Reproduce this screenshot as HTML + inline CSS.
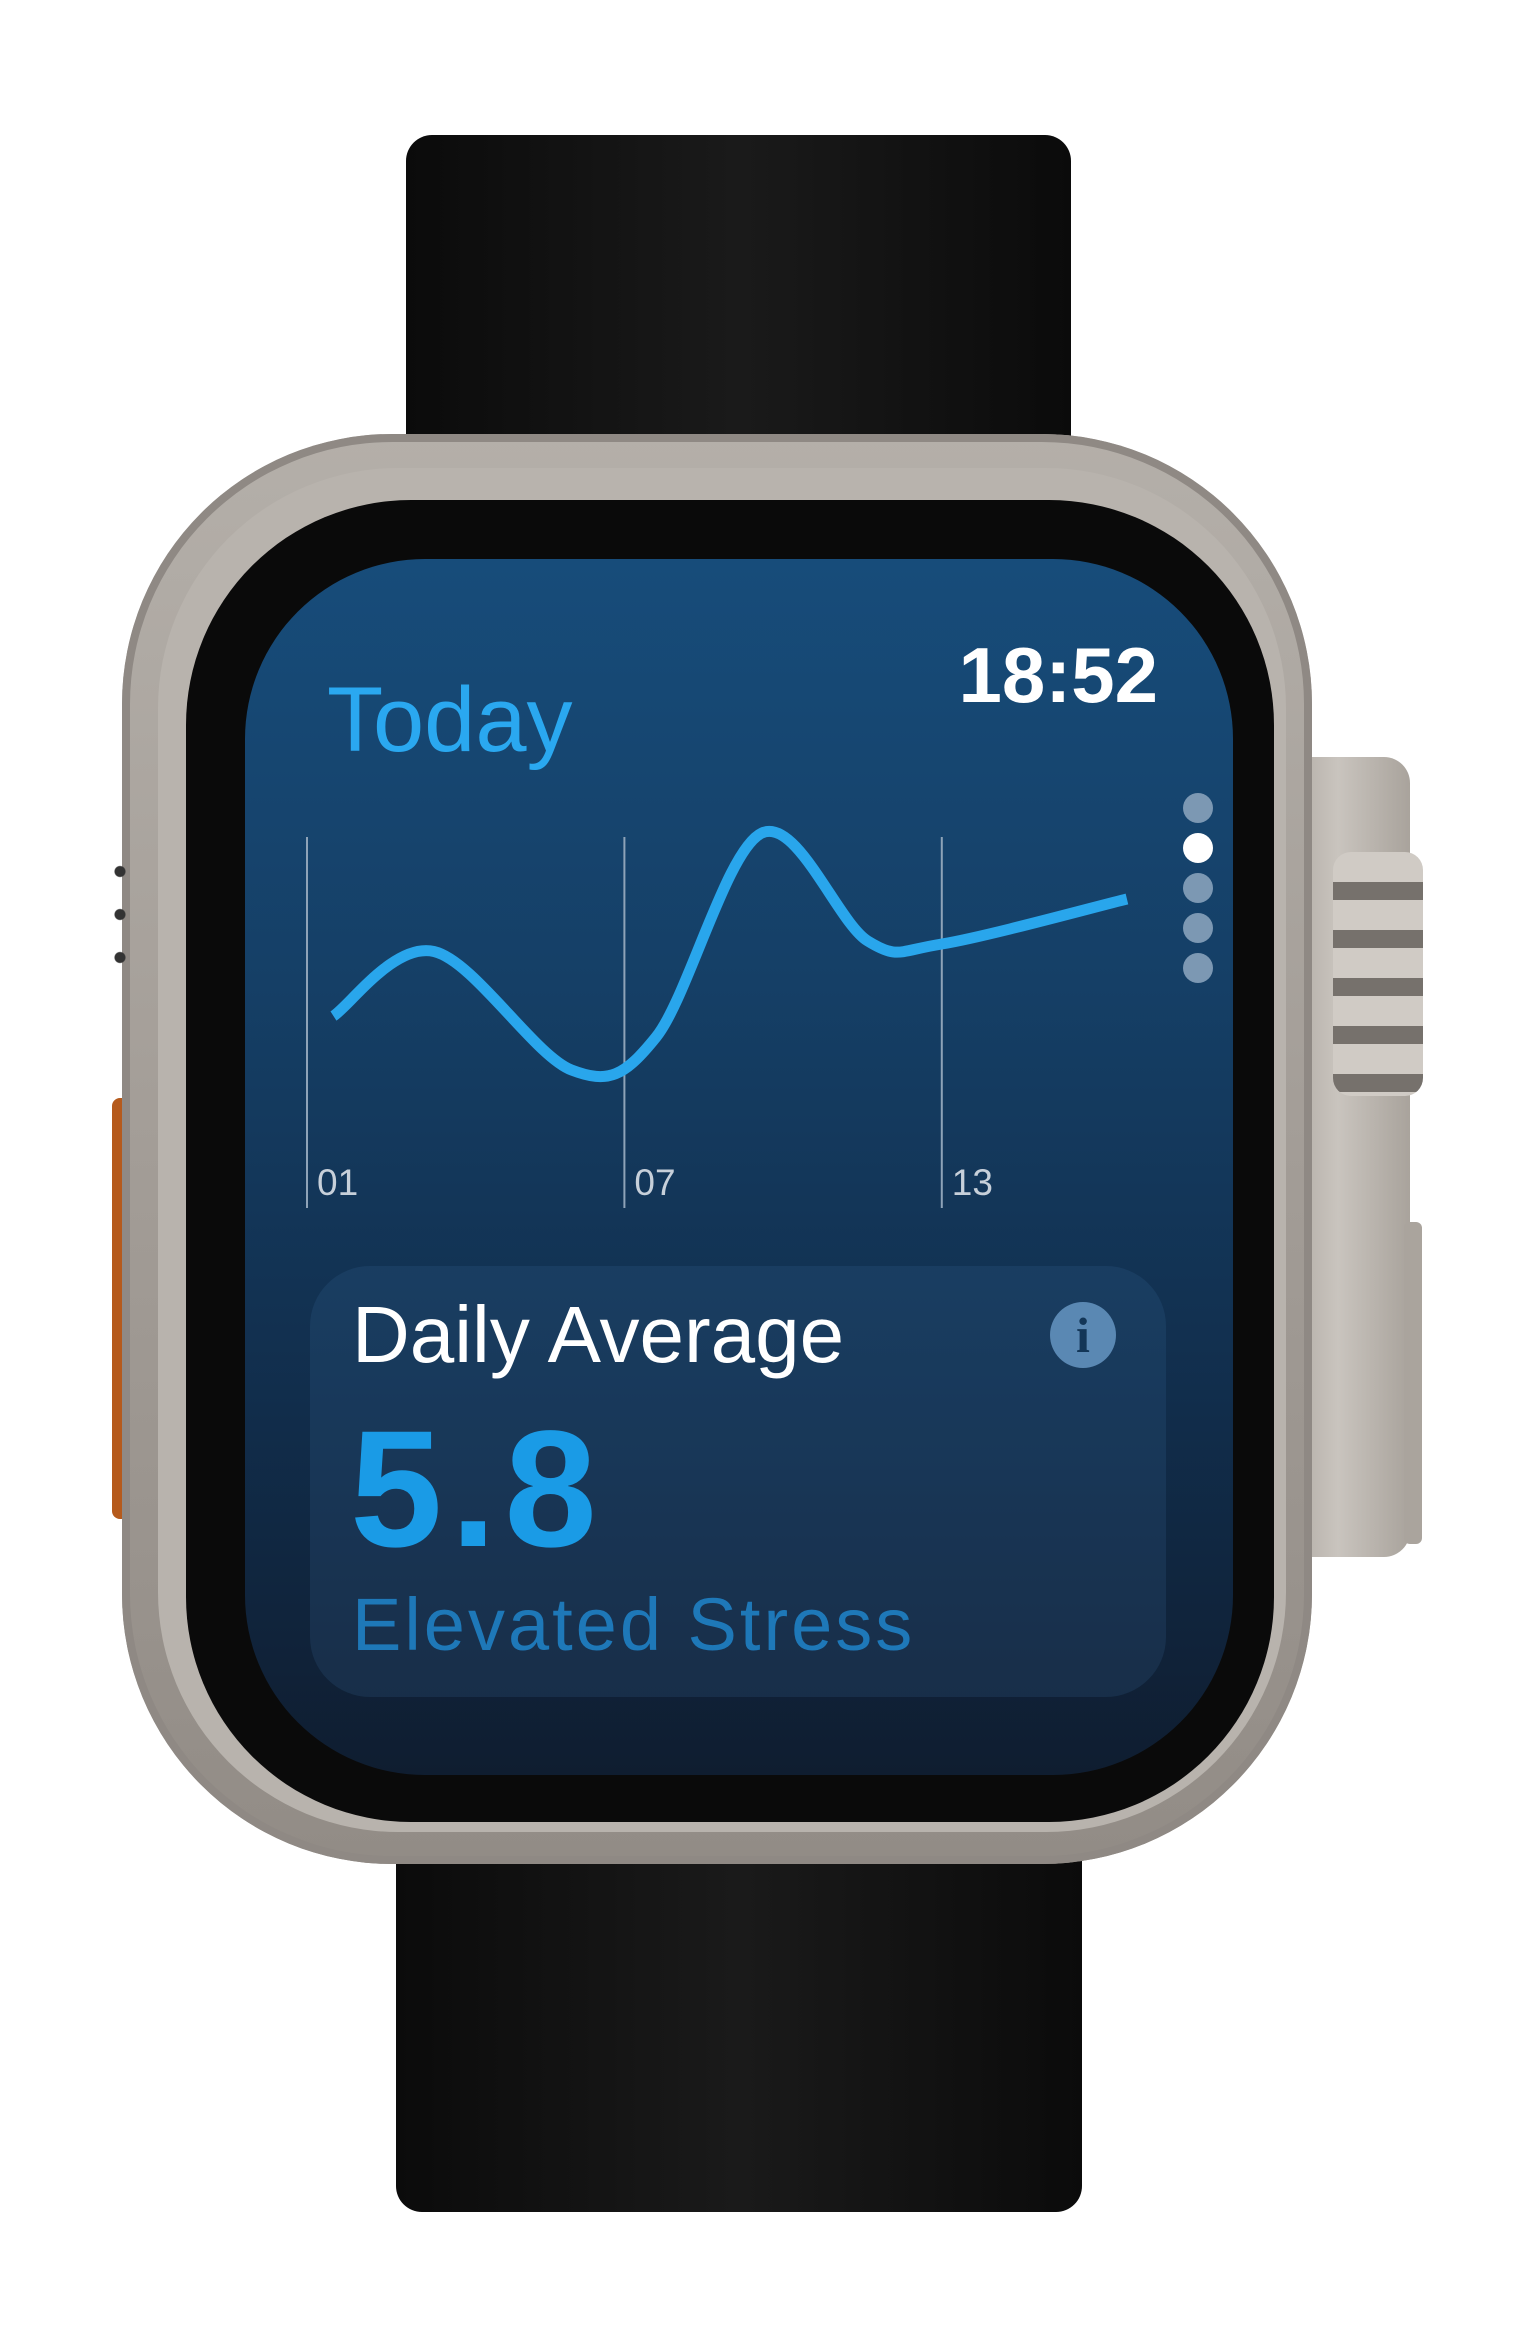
<!DOCTYPE html>
<html><head><meta charset="utf-8">
<style>
html,body{margin:0;padding:0;background:#fff;}
body{width:1540px;height:2336px;position:relative;overflow:hidden;font-family:"Liberation Sans","DejaVu Sans",sans-serif;}
.abs{position:absolute;}
</style></head>
<body>
<div class="abs" style="left:406px;top:135px;width:665px;height:400px;background:linear-gradient(90deg,#0b0b0b,#1a1a1a 50%,#0b0b0b);border-radius:26px 26px 0 0;"></div>
<div class="abs" style="left:396px;top:1780px;width:686px;height:432px;background:linear-gradient(90deg,#0b0b0b,#1a1a1a 50%,#0b0b0b);border-radius:0 0 26px 26px;"></div>
<div class="abs" style="left:1250px;top:757px;width:160px;height:800px;background:linear-gradient(90deg,#9c968f,#c9c4be 55%,#a9a39c);border-radius:0 26px 26px 0;"></div>
<div class="abs" style="left:1333px;top:852px;width:90px;height:244px;border-radius:18px;background:repeating-linear-gradient(180deg,#d0cbc5 0 30px,#76716c 30px 48px);"></div>
<div class="abs" style="left:1404px;top:1222px;width:18px;height:322px;border-radius:6px;background:#aaa49d;"></div>
<div class="abs" style="left:112px;top:1098px;width:20px;height:421px;border-radius:8px;background:#b55a1c;"></div>
<div class="abs" style="left:122px;top:434px;width:1190px;height:1430px;border-radius:270px;background:linear-gradient(180deg,#b4afa9,#a39d97 50%,#928c86);box-shadow:inset 0 0 0 8px #8f8984;"></div>
<div class="abs" style="left:158px;top:468px;width:1128px;height:1364px;border-radius:240px;background:#b8b3ad;"></div>
<div class="abs" style="left:186px;top:500px;width:1088px;height:1322px;border-radius:225px;background:#0a0a0a;"></div>
<div class="abs" style="left:114px;top:850px;width:12px;height:128px;background:radial-gradient(circle,#333 5px,transparent 6px) 0 0/12px 43px;"></div>

<div class="abs" style="left:245px;top:559px;width:988px;height:1216px;border-radius:180px;background:linear-gradient(180deg,#174c7a 0%,#153f66 35%,#112d4b 70%,#0f1d30 100%);overflow:hidden;">
</div>
<div class="abs" style="left:327px;top:670px;font-size:92px;line-height:100px;color:#2aa8f0;">Today</div>
<div class="abs" style="left:900px;top:632px;width:258px;text-align:right;font-size:78px;line-height:86px;color:#fff;font-weight:bold;">18:52</div>

<svg class="abs" style="left:0;top:0" width="1540" height="2336" id="chart"></svg>

<div class="abs" style="left:310px;top:1266px;width:856px;height:431px;border-radius:60px;background:rgba(60,110,160,0.18);"></div>
<div class="abs" style="left:352px;top:1290px;font-size:80px;line-height:90px;color:#fff;">Daily Average</div>
<div class="abs" style="left:1050px;top:1302px;width:66px;height:66px;border-radius:50%;background:#5a88b3;color:#133657;font-family:'Liberation Serif',serif;font-weight:bold;font-size:50px;line-height:66px;text-align:center;">i</div>
<div class="abs" style="left:350px;top:1400px;font-size:166px;line-height:180px;font-weight:bold;color:#1a9be6;letter-spacing:8px;">5.8</div>
<div class="abs" style="left:352px;top:1585px;font-size:74px;line-height:80px;color:#1e78b8;letter-spacing:3px;">Elevated Stress</div>

<script>
const hours = [1.5, 3.4, 6.0, 7.6, 9.6, 11.6, 13.0, 16.5];
const stress = [6.4, 8.55, 4.6, 5.7, 12.5, 8.9, 8.8, 10.3];
const tickHours = [1, 7, 13];
const tickLabels = ["01", "07", "13"];
const pageDots = [0, 1, 2, 3, 4];
const activePage = 1;

const NS = "http://www.w3.org/2000/svg";
const svg = document.getElementById("chart");
const xOf = h => 307 + (h - 1) * 52.9;
const yOf = v => 1208 - v * 30;

tickHours.forEach((h, i) => {
  const ln = document.createElementNS(NS, "line");
  
  
  ln.setAttribute("x1", xOf(h)); ln.setAttribute("x2", xOf(h));
  ln.setAttribute("y1", 837); ln.setAttribute("y2", 1208);
  ln.setAttribute("stroke", "#8ea3b8"); ln.setAttribute("stroke-width", "2");
  svg.appendChild(ln);
  const t = document.createElementNS(NS, "text");
  
  
  t.setAttribute("x", xOf(h) + 10); t.setAttribute("y", 1195);
  t.setAttribute("fill", "#c7d0da"); t.setAttribute("font-size", "37");
  t.setAttribute("font-family", "Liberation Sans, sans-serif");
  t.textContent = tickLabels[i];
  svg.appendChild(t);
});

const pts = hours.map((h, i) => [xOf(h), yOf(stress[i])]);
let d = "M" + pts[0][0] + "," + pts[0][1];
for (let i = 0; i < pts.length - 1; i++) {
  const p0 = pts[Math.max(0, i - 1)], p1 = pts[i], p2 = pts[i + 1], p3 = pts[Math.min(pts.length - 1, i + 2)];
  const c1 = [p1[0] + (p2[0] - p0[0]) / 6, p1[1] + (p2[1] - p0[1]) / 6];
  const c2 = [p2[0] - (p3[0] - p1[0]) / 6, p2[1] - (p3[1] - p1[1]) / 6];
  d += " C" + c1 + " " + c2 + " " + p2;
}
const path = document.createElementNS(NS, "path");


path.setAttribute("d", d);
path.setAttribute("fill", "none"); path.setAttribute("stroke", "#29a6ec");
path.setAttribute("stroke-width", "11"); path.setAttribute("stroke-linecap", "butt");
path.setAttribute("stroke-linejoin", "round");
svg.appendChild(path);

pageDots.forEach(i => {
  const c = document.createElementNS(NS, "circle");
  
  
  c.setAttribute("cx", 1198); c.setAttribute("cy", 808 + i * 40);
  c.setAttribute("r", 15);
  c.setAttribute("fill", i === activePage ? "#ffffff" : "#7c98b3");
  svg.appendChild(c);
});
</script>
</body></html>
